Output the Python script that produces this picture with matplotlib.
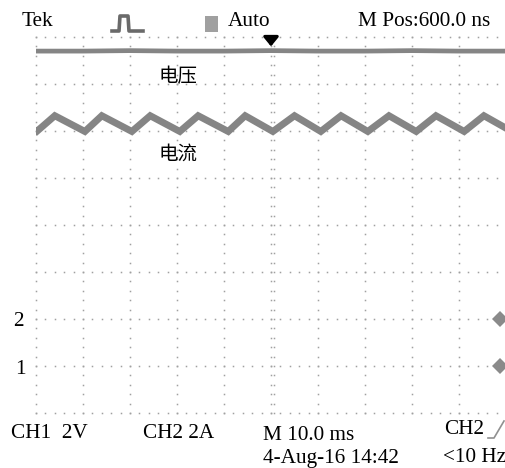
import numpy as np
import matplotlib
matplotlib.use("Agg")
import matplotlib.pyplot as plt
from matplotlib.lines import Line2D
from matplotlib.patches import Rectangle

# scope settings
volts_per_div = 2.0   # CH1
amps_per_div = 2.0    # CH2
ch1_offset = -3.0     # ground marker positions (divisions)
ch2_offset = -2.0

# CH1 voltage trace (ms, V)
volt_t = [0, 10, 20, 30, 40, 50, 60, 70, 80, 90, 100]
volt_v = [13.4, 13.4, 13.42, 13.4, 13.4, 13.42, 13.4, 13.4, 13.42, 13.4, 13.4]

# CH2 current trace: peaks and troughs (ms, A)
curr_t = [0.0, 0.15, 4.0, 10.4, 14.0, 20.4, 24.3, 30.6, 34.5, 40.9, 44.5,
          50.4, 55.0, 60.6, 64.9, 70.6, 75.1, 80.9, 85.1, 91.1, 95.3, 100.0]
curr_a = [8.0, 7.98, 8.65, 7.98, 8.65, 7.98, 8.65, 7.98, 8.65, 7.98, 8.65,
          7.98, 8.65, 7.98, 8.65, 7.98, 8.65, 7.98, 8.65, 7.98, 8.65, 8.12]

W, H = 506, 468


def fx(px):
    return px / W


def fy(py):
    return 1 - py / H


fig = plt.figure(figsize=(W / 100, H / 100), dpi=100)
ax = fig.add_axes([fx(36), fy(413), (506 - 36) / W, (413 - 37) / H])
ax.set_xlim(0, 100)
ax.set_ylim(-4, 4)
ax.axis("off")

# dotted graticule
dot_col = "#a0a0a0"
ys = np.arange(-4, 4.01, 0.2)
xs = np.arange(0, 100.01, 2)
for gx in range(0, 101, 10):
    ax.plot(np.full_like(ys, gx), ys, ls="none", marker="s", ms=1.1,
            color=dot_col, mew=0, clip_on=False)
for gy in range(-4, 5):
    ax.plot(xs, np.full_like(xs, gy), ls="none", marker="s", ms=1.1,
            color=dot_col, mew=0, clip_on=False)
# centre line gets the extra tick marks
ax.plot(np.full_like(ys, 50.6), ys, ls="none", marker="s", ms=1.1,
        color=dot_col, mew=0, clip_on=False)

# traces
v_div = np.array(volt_v) / volts_per_div + ch1_offset
i_div = np.array(curr_a) / amps_per_div + ch2_offset
ax.plot(volt_t, v_div, color="#858585", lw=3.4, solid_capstyle="butt")
ax.plot(curr_t, i_div, color="#858585", lw=5.0, solid_joinstyle="miter")

# ground markers
ax.plot([98.8, 98.8], [ch2_offset, ch1_offset], ls="none", marker="D", ms=8,
        color="#8a8a8a", mew=0, clip_on=False)

# trigger position arrow
ax.annotate("", xy=(50, 3.74), xytext=(50, 4.02),
            arrowprops=dict(arrowstyle="-|>,head_width=0.45,head_length=0.55",
                            color="black", lw=2.2), annotation_clip=False)

serif = dict(family="Liberation Serif", fontsize=15.3, color="black")
cjk = dict(family=["Noto Sans CJK SC", "DejaVu Sans"], fontsize=14,
           color="black")

fig.text(fx(22), fy(21), "Tek", va="center", ha="left", **serif)
fig.text(fx(228), fy(21), "Auto", va="center", ha="left", **serif)
fig.text(fx(358), fy(21), "M Pos:600.0 ns", va="center", ha="left", **serif)

# trigger icon and acquisition box
fig.add_artist(Line2D([fx(112), fx(119), fx(120), fx(128), fx(129), fx(143)],
                      [fy(31), fy(31), fy(16), fy(16), fy(31), fy(31)],
                      color="#6a6a6a", lw=2.6))
fig.add_artist(Rectangle((fx(205), fy(32)), 13 / W, 16 / H,
                         facecolor="#a0a0a0", edgecolor="none",
                         transform=fig.transFigure))

ax.text(26.0, 3.16, "电压", va="center", ha="left", **cjk)
ax.text(26.0, 1.5, "电流", va="center", ha="left", **cjk)

fig.text(fx(13), fy(322), "2", va="center", ha="left", **serif)
fig.text(fx(15), fy(369), "1", va="center", ha="left", **serif)

fig.text(fx(11), fy(433), "CH1  2V", va="center", ha="left", **serif)
fig.text(fx(143), fy(433), "CH2 2A", va="center", ha="left", **serif)
fig.text(fx(263), fy(435), "M 10.0 ms", va="center", ha="left", **serif)
fig.text(fx(263), fy(458), "4-Aug-16 14:42", va="center", ha="left", **serif)
fig.text(fx(444), fy(429), "CH2", va="center", ha="left", **serif)
fig.add_artist(Line2D([fx(488), fx(494), fx(504)],
                      [fy(438), fy(438), fy(421)], color="#909090", lw=1.2))
fig.text(fx(443), fy(458), "<10 Hz", va="center", ha="left", **serif)

fig.savefig("out.png", dpi=100)
